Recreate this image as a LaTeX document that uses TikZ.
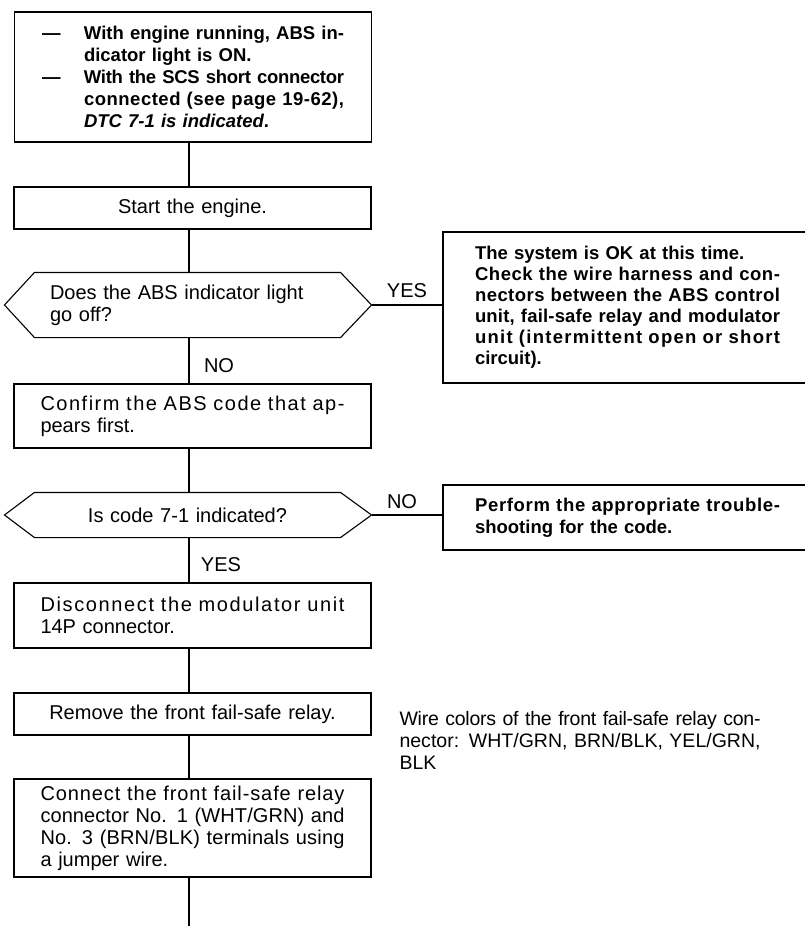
\documentclass[tikz,border=0pt]{standalone}
\usepackage{fontspec}
\setmainfont{Liberation Sans}
\usetikzlibrary{calc}
\newcommand\txtreg{\fontsize{20}{22}\selectfont}
\newcommand\txtbold{\fontsize{18.5}{22}\selectfont\bfseries}
\newdimen\jla
\newdimen\jlb
% a line set to a given width by letter spacing
\newcommand\jline[2]{%
  \settowidth\jla{#2}%
  \settowidth\jlb{\addfontfeature{LetterSpace=10}#2}%
  \edef\jls{\fpeval{round(10*(#1-\jla)/(\jlb-\jla),3)}}%
  \makebox[#1][l]{\addfontfeature{LetterSpace=\jls}#2}}
\begin{document}
\begin{tikzpicture}[x=1pt,y=-1pt,line width=1.1pt,
  box/.style={draw,rectangle,inner sep=0pt,minimum width=357pt,text width=304pt,align=left,font=\txtreg},
  cbox/.style={box,align=center},
  bbox/.style={draw,rectangle,inner sep=0pt,minimum width=369pt,text width=305pt,align=left,font=\txtbold},
  dtext/.style={inner sep=0pt,minimum width=305pt,text width=275pt,font=\txtreg},
  lbl/.style={inner sep=0pt,font=\txtreg},
  conn/.style={draw,line width=1.1pt}]
\useasboundingbox (0,0) rectangle (805,926);
\coordinate (axis) at (189,0);

% top condition box
\node[box,font=\txtbold,text width=302pt,minimum height=130pt] (b1) at (193,77) {%
\makebox[42pt][l]{—}\jline{260pt}{With engine running, ABS in-}\\
\hspace*{42pt}dicator light is ON.\\
\makebox[42pt][l]{—}\jline{260pt}{With the SCS short connector}\\
\hspace*{42pt}\jline{260pt}{connected (see page 19-62),}\\
\hspace*{42pt}\textit{DTC 7-1 is indicated}.};

\node[cbox,minimum height=42pt] (b2) at (192.5,208) {Start the engine.};

% decision 1
\node[dtext,minimum height=64pt,align=left] (d1) at (187.5,305) {Does the ABS indicator light\\go off?};
\draw (d1.north west) -- (d1.north east) -- ([xshift=31pt]d1.east) coordinate (d1r)
  -- (d1.south east) -- (d1.south west) -- ([xshift=-30pt]d1.west) coordinate (d1l) -- cycle;

\node[bbox,minimum height=151pt,font=\fontsize{18.5}{21}\selectfont\bfseries] (b3) at (627.5,307.5) {%
The system is OK at this time.\\
\jline{305pt}{Check the wire harness and con-}\\
\jline{305pt}{nectors between the ABS control}\\
\jline{305pt}{unit, fail-safe relay and modulator}\\
\jline{305pt}{unit (intermittent open or short}\\
circuit).};

\node[box,minimum height=64pt] (b4) at (192.5,416) {%
\jline{304pt}{Confirm the ABS code that ap-}\\
pears first.};

% decision 2
\node[dtext,minimum height=44pt,align=center] (d2) at (187.5,515) {Is code 7-1 indicated?};
\draw (d2.north west) -- (d2.north east) -- ([xshift=31pt]d2.east) coordinate (d2r)
  -- (d2.south east) -- (d2.south west) -- ([xshift=-30pt]d2.west) coordinate (d2l) -- cycle;

\node[bbox,minimum height=65pt] (b5) at (627.5,517.5) {%
\jline{305pt}{Perform the appropriate trouble-}\\
shooting for the code.};

\node[box,minimum height=65pt] (b6) at (192.5,615.5) {%
\jline{304pt}{Disconnect the modulator unit}\\
14P connector.};

\node[cbox,minimum height=42pt] (b7) at (192.5,714) {Remove the front fail-safe relay.};

\node[anchor=west,inner sep=0pt,text width=380pt,align=left,font=\fontsize{19.5}{22}\selectfont] (note) at (399,740) {%
\jline{361pt}{Wire colors of the front fail-safe relay con-}\\
\jline{361pt}{nector: WHT/GRN, BRN/BLK, YEL/GRN,}\\
BLK};

\node[box,minimum height=98pt] (b8) at (192.5,828) {%
\jline{304pt}{Connect the front fail-safe relay}\\
\jline{304pt}{connector No. 1 (WHT/GRN) and}\\
\jline{304pt}{No. 3 (BRN/BLK) terminals using}\\
a jumper wire.};

\coordinate (end) at (189,926);

% connectors
\draw[conn] (b1.south -| axis) -- (b2.north -| axis);
\draw[conn] (b2.south -| axis) -- (d1.north -| axis);
\draw[conn] (d1.south -| axis) -- (b4.north -| axis);
\draw[conn] (b4.south -| axis) -- (d2.north -| axis);
\draw[conn] (d2.south -| axis) -- (b6.north -| axis);
\draw[conn] (b6.south -| axis) -- (b7.north -| axis);
\draw[conn] (b7.south -| axis) -- (b8.north -| axis);
\draw[conn] (b8.south -| axis) -- (end);
\draw[conn] (d1r) -- (d1r -| b3.west);
\draw[conn] (d2r) -- (d2r -| b5.west);

% labels
\node[lbl] (yes1) at (407,291) {YES};
\node[lbl] (no1) at (219,366) {NO};
\node[lbl] (no2) at (402,502) {NO};
\node[lbl] (yes2) at (221,565) {YES};
\end{tikzpicture}
\end{document}
